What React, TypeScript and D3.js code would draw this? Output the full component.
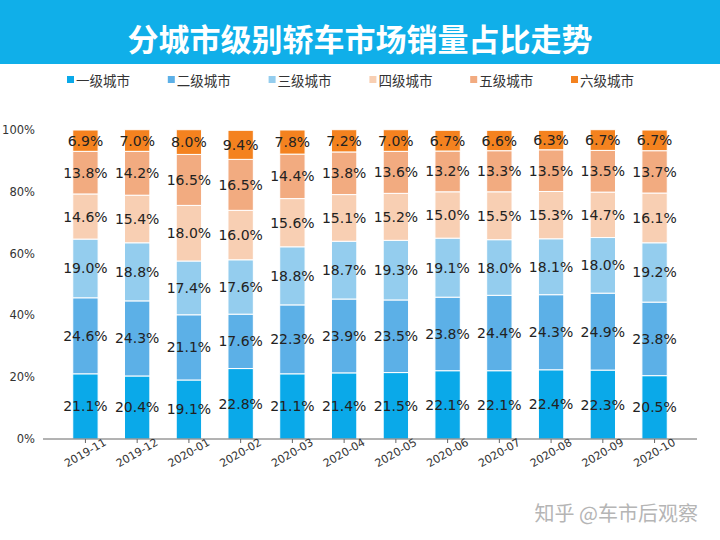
import * as d3 from 'd3'

// months on the x axis
const months = [
  '2019-11', '2019-12', '2020-01', '2020-02', '2020-03', '2020-04',
  '2020-05', '2020-06', '2020-07', '2020-08', '2020-09', '2020-10',
]

const seriesNames = ['一级城市', '二级城市', '三级城市', '四级城市', '五级城市', '六级城市']

const tier1 = [21.1, 20.4, 19.1, 22.8, 21.1, 21.4, 21.5, 22.1, 22.1, 22.4, 22.3, 20.5]
const tier2 = [24.6, 24.3, 21.1, 17.6, 22.3, 23.9, 23.5, 23.8, 24.4, 24.3, 24.9, 23.8]
const tier3 = [19.0, 18.8, 17.4, 17.6, 18.8, 18.7, 19.3, 19.1, 18.0, 18.1, 18.0, 19.2]
const tier4 = [14.6, 15.4, 18.0, 16.0, 15.6, 15.1, 15.2, 15.0, 15.5, 15.3, 14.7, 16.1]
const tier5 = [13.8, 14.2, 16.5, 16.5, 14.4, 13.8, 13.6, 13.2, 13.3, 13.5, 13.5, 13.7]
const tier6 = [6.9, 7.0, 8.0, 9.4, 7.8, 7.2, 7.0, 6.7, 6.6, 6.3, 6.7, 6.7]

const yTicks = [0, 20, 40, 60, 80, 100]

const colors = ['#0aa9e9', '#5cb0e7', '#94cdee', '#f8cfb3', '#f2ab80', '#f4821f']

const W = 720
const H = 540

export default function App() {
  const series = [tier1, tier2, tier3, tier4, tier5, tier6]
  const rows = months.map((m, i) => {
    const row: Record<string, number | string> = { month: m }
    seriesNames.forEach((s, k) => (row[s] = series[k][i]))
    return row
  })
  const stacked = d3.stack<Record<string, number | string>>().keys(seriesNames)(rows as any)

  // matplotlib-like margins around the bars
  const x = d3.scaleLinear().domain([-0.82, months.length - 1 + 0.82]).range([43, 697])
  const y = d3.scaleLinear().domain([0, 100]).range([439, 130])
  const barW = x(0.49) - x(0)

  const font = '"DejaVu Sans", sans-serif'
  const cjk = '"Noto Sans CJK SC", sans-serif'

  return (
    <svg
      width={W}
      height={H}
      style={{ position: 'absolute', left: 0, top: 0, background: '#fff' }}
    >
      <rect x={0} y={0} width={W} height={64} fill="#10afe9" />
      <text
        x={W / 2}
        y={37}
        textAnchor="middle"
        dominantBaseline="central"
        fill="#fff"
        fontFamily={cjk}
        fontWeight={700}
        fontSize={31}
      >
        分城市级别轿车市场销量占比走势
      </text>

      {/* legend */}
      {seriesNames.map((s, i) => {
        const lx = 67 + i * 100.8
        return (
          <g key={s}>
            <rect x={lx} y={76} width={7} height={7} fill={colors[i]} />
            <text x={lx + 9} y={80} dominantBaseline="central" fontFamily={cjk} fontSize={13.5} fill="#333">
              {s}
            </text>
          </g>
        )
      })}

      {/* y tick labels */}
      {yTicks.map((t) => (
        <text
          key={t}
          x={35}
          y={y(t)}
          textAnchor="end"
          dominantBaseline="central"
          fontFamily={font}
          fontSize={11.5}
          fill="#333"
        >
          {t}%
        </text>
      ))}

      {/* bars */}
      {stacked.map((layer, k) => (
        <g key={layer.key}>
          {layer.map((d, i) => (
            <rect
              key={i}
              x={x(i) - barW / 2}
              y={y(d[1])}
              width={barW}
              height={y(d[0]) - y(d[1])}
              fill={colors[k]}
              stroke="#fff"
              strokeWidth={1}
            />
          ))}
        </g>
      ))}

      {/* value labels */}
      {stacked.map((layer, k) => (
        <g key={'l' + layer.key}>
          {layer.map((d, i) => (
            <text
              key={i}
              x={x(i)}
              y={(y(d[0]) + y(d[1])) / 2}
              textAnchor="middle"
              dominantBaseline="central"
              fontFamily={font}
              fontSize={14}
              fill="#222"
            >
              {series[k][i].toFixed(1)}%
            </text>
          ))}
        </g>
      ))}

      {/* x axis */}
      <line x1={43} x2={697} y1={439} y2={439} stroke="#666" strokeWidth={1} />
      {months.map((m, i) => (
        <g key={m}>
          <line x1={x(i)} x2={x(i)} y1={439} y2={443} stroke="#666" />
          <text
            transform={`translate(${x(i)},${453}) rotate(-30)`}
            textAnchor="middle"
            dominantBaseline="central"
            fontFamily={font}
            fontSize={11}
            fill="#333"
          >
            {m}
          </text>
        </g>
      ))}

      <text x={698} y={512} textAnchor="end" dominantBaseline="central" fontFamily={cjk} fontSize={20} fill="#b5b5b5">
        知乎 @车市后观察
      </text>
    </svg>
  )
}
